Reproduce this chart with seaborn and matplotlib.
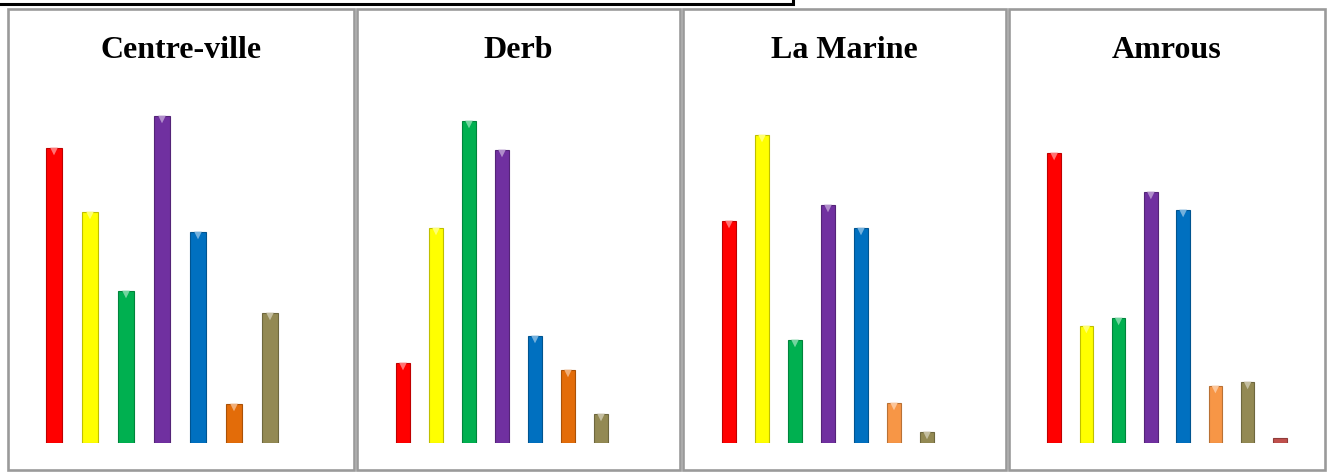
import numpy as np
import pandas as pd
import matplotlib
matplotlib.use('Agg')
import matplotlib.pyplot as plt
import matplotlib.colors as mcolors
from matplotlib.patches import Rectangle
import seaborn as sns

# data (bar heights, arbitrary units)
panels = ['Centre-ville', 'Derb', 'La Marine', 'Amrous']
categories = ['c1', 'c2', 'c3', 'c4', 'c5', 'c6', 'c7', 'c8']
centre_ville = [29.5, 23.1, 15.2, 32.7, 21.1, 3.9, 13.0, 0]
derb = [8.0, 21.5, 32.2, 29.3, 10.7, 7.3, 2.9, 0]
la_marine = [22.2, 30.8, 10.3, 23.8, 21.5, 4.0, 1.1, 0]
amrous = [29.0, 11.7, 12.5, 25.1, 23.3, 5.7, 6.1, 0.5]

colors_a = ['#FF0000', '#FFFF00', '#00B050', '#7030A0', '#0070C0', '#E36C09', '#938953', '#C0504D']
colors_b = ['#FF0000', '#FFFF00', '#00B050', '#7030A0', '#0070C0', '#F79646', '#938953', '#C0504D']

W, H = 1328, 472
sns.set_style('white')
fig = plt.figure(figsize=(W / 100, H / 100), dpi=100)

# axes placement in pixels: (left, width)
ax_px = [(36, 288), (386.5, 264), (712.5, 264), (1038, 258)]
panel_px = [(8, 354), (357, 680), (683, 1006), (1009, 1325)]
base_y, unit_px = 443, 10.0

def lighten(c, f=0.45):
    r, g, b = mcolors.to_rgb(c)
    return (r + (1 - r) * f, g + (1 - g) * f, b + (1 - b) * f)

def darken(c, f=0.25):
    r, g, b = mcolors.to_rgb(c)
    return (r * (1 - f), g * (1 - f), b * (1 - f))

all_vals = [centre_ville, derb, la_marine, amrous]
all_cols = [colors_a, colors_a, colors_b, colors_b]

for i, name in enumerate(panels):
    # panel frame
    x0, x1 = panel_px[i]
    fig.add_artist(Rectangle((x0 / W, 1 - 470 / H), (x1 - x0) / W, (470 - 9) / H,
                             transform=fig.transFigure, fill=False,
                             edgecolor='#9A9A9A', linewidth=1.9))
    fig.text((x0 + x1) / 2 / W, 1 - 50.5 / H, name, ha='center', va='center', color='black',
             fontsize=23, fontweight='bold', family='Liberation Serif')

    left, width = ax_px[i]
    ymax = 35
    ax = fig.add_axes([left / W, (H - base_y) / H, width / W, ymax * unit_px / H])
    df = pd.DataFrame({'cat': categories, 'val': all_vals[i]})
    pal = dict(zip(categories, all_cols[i]))
    sns.barplot(data=df, x='cat', y='val', hue='cat', palette=pal, order=categories,
                hue_order=categories, legend=False, width=0.42, ax=ax, saturation=1)
    for bar, c, v in zip(ax.patches, all_cols[i], all_vals[i]):
        bar.set_edgecolor(darken(c))
        bar.set_linewidth(0.8)
        if v == 0:
            bar.set_visible(False)
    # little bevel triangle at the top of every bar
    tops = df[df['val'] > 1.0]
    ax.scatter(tops.index, tops['val'] - 0.35, marker='v', s=30,
               c=[lighten(all_cols[i][k]) for k in tops.index], linewidths=0, zorder=5)
    ax.set_xlim(-0.5, 7.5)
    ax.set_ylim(0, ymax)
    ax.axis('off')

# black box fragment at the top
fig.add_artist(Rectangle((-10 / W, 1 - 3.5 / H), 803 / W, 20 / H, transform=fig.transFigure,
                         fill=False, edgecolor='black', linewidth=2.2, clip_on=False))

fig.savefig('out.png', dpi=100, facecolor='white')
